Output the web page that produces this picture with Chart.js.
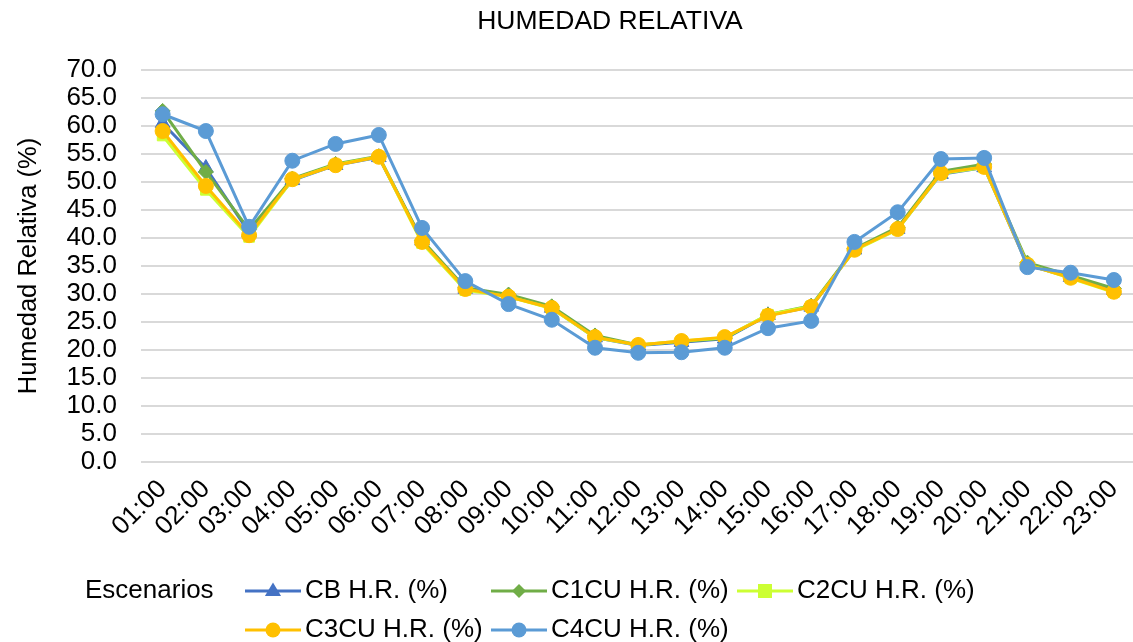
<!DOCTYPE html>
<html>
<head>
<meta charset="utf-8">
<title>Humedad relativa</title>
<script src="https://cdn.jsdelivr.net/npm/chart.js"></script>
<style>
  html, body { margin: 0; padding: 0; background: #fff; overflow: hidden; }
  #wrap { width: 1133px; height: 642px; overflow: hidden; }
</style>
</head>
<body>
<div id="wrap"><canvas id="chart" width="1145" height="642"></canvas></div>
<script>
'use strict';

// Horas del día
const hours = ['01:00', '02:00', '03:00', '04:00', '05:00', '06:00', '07:00', '08:00',
  '09:00', '10:00', '11:00', '12:00', '13:00', '14:00', '15:00', '16:00', '17:00',
  '18:00', '19:00', '20:00', '21:00', '22:00', '23:00'];

// Humedad relativa (%) por escenario
const cb = [60.5, 52.5, 41.0, 50.3, 53.0, 54.4, 39.5, 30.9, 29.6, 27.5, 22.2, 20.8,
  21.4, 22.0, 26.2, 27.7, 37.9, 41.6, 51.4, 52.6, 35.2, 33.0, 30.7];
const c1cu = [62.7, 51.8, 41.5, 50.6, 53.2, 54.6, 39.6, 31.1, 29.9, 27.8, 22.6, 20.9,
  21.5, 22.1, 26.3, 27.9, 38.1, 41.9, 51.9, 53.2, 35.6, 33.3, 31.0];
const c2cu = [58.3, 48.6, 40.2, 50.4, 53.1, 54.5, 39.1, 30.7, 29.5, 27.4, 22.2, 20.9,
  21.6, 22.2, 26.3, 27.8, 37.8, 41.5, 51.5, 52.6, 35.3, 32.8, 30.3];
const c3cu = [59.1, 49.3, 40.5, 50.5, 53.0, 54.5, 39.3, 30.9, 29.5, 27.5, 22.3, 20.9,
  21.6, 22.3, 26.1, 27.7, 37.9, 41.6, 51.6, 52.7, 35.2, 32.9, 30.4];
const c4cu = [62.1, 59.1, 42.0, 53.8, 56.8, 58.4, 41.8, 32.3, 28.2, 25.4, 20.4, 19.5,
  19.6, 20.4, 23.9, 25.2, 39.3, 44.6, 54.1, 54.3, 34.8, 33.8, 32.5];

const FONT = 'Liberation Sans, Arial, sans-serif';

function serie(label, data, color, pointStyle, radius, order) {
  return {
    label, data, order, pointStyle,
    borderColor: color,
    backgroundColor: color,
    pointBackgroundColor: color,
    pointBorderColor: color,
    borderWidth: 3,
    pointRadius: radius,
    pointBorderWidth: 1,
    tension: 0
  };
}

// marcador para la leyenda propia
function drawMarker(ctx, style, x, y, r, color) {
  ctx.save();
  ctx.fillStyle = color;
  ctx.beginPath();
  if (style === 'circle') {
    ctx.arc(x, y, r, 0, Math.PI * 2);
  } else if (style === 'triangle') {
    ctx.moveTo(x, y - r);
    ctx.lineTo(x + r * 0.95, y + r * 0.6);
    ctx.lineTo(x - r * 0.95, y + r * 0.6);
  } else if (style === 'rectRot') {
    ctx.moveTo(x, y - r);
    ctx.lineTo(x + r, y);
    ctx.lineTo(x, y + r);
    ctx.lineTo(x - r, y);
  } else {
    ctx.rect(x - r, y - r, r * 2, r * 2);
  }
  ctx.closePath();
  ctx.fill();
  ctx.restore();
}

// Título y leyenda con "Escenarios" a la izquierda y los elementos en rejilla
const decorPlugin = {
  id: 'escenariosLegend',
  afterDraw(chart) {
    const ctx = chart.ctx;
    ctx.save();
    ctx.fillStyle = '#000';
    ctx.textBaseline = 'middle';
    ctx.textAlign = 'center';
    ctx.font = '26.5px ' + FONT;
    ctx.fillText('HUMEDAD RELATIVA', 610, 22);

    const rows = [591, 630];
    const cols = [245, 491, 737];
    const sizes = { circle: 7.5, triangle: 8.5, rectRot: 7, rect: 7 };
    ctx.textAlign = 'left';
    ctx.font = '26px ' + FONT;
    ctx.fillText('Escenarios', 85, rows[0]);
    chart.data.datasets.forEach((ds, i) => {
      const x = cols[i < 3 ? i : i - 3];
      const y = rows[i < 3 ? 0 : 1];
      ctx.strokeStyle = ds.borderColor;
      ctx.lineWidth = 3;
      ctx.beginPath();
      ctx.moveTo(x, y);
      ctx.lineTo(x + 56, y);
      ctx.stroke();
      drawMarker(ctx, ds.pointStyle, x + 28, y, sizes[ds.pointStyle], ds.borderColor);
      ctx.fillStyle = '#000';
      ctx.fillText(ds.label, x + 60, y);
    });
    ctx.restore();
  }
};

const ctx = document.getElementById('chart').getContext('2d');
new Chart(ctx, {
  type: 'line',
  data: {
    labels: hours,
    datasets: [
      serie('CB H.R. (%)', cb, '#4472C4', 'triangle', 8.5, 5),
      serie('C1CU H.R. (%)', c1cu, '#70AD47', 'rectRot', 7.5, 4),
      serie('C2CU H.R. (%)', c2cu, '#CCFF33', 'rect', 7.5, 3),
      serie('C3CU H.R. (%)', c3cu, '#FFC000', 'circle', 7.5, 2),
      serie('C4CU H.R. (%)', c4cu, '#5B9BD5', 'circle', 7.5, 1)
    ]
  },
  options: {
    responsive: false,
    animation: false,
    layout: { padding: { top: 70, right: 0, bottom: 100, left: 0 } },
    plugins: {
      legend: { display: false },
      tooltip: { enabled: false },
      title: { display: false }
    },
    scales: {
      x: {
        offset: true,
        grid: { display: false, drawTicks: false },
        border: { display: false },
        ticks: {
          color: '#000',
          font: { family: FONT, size: 26 },
          maxRotation: 45,
          minRotation: 45,
          autoSkip: false,
          padding: 12
        },
        afterFit(scale) {
          scale.height = 80;
          scale.paddingLeft = 0;
          scale.paddingRight = 0;
        }
      },
      y: {
        min: 0,
        max: 70,
        grid: { color: '#D9D9D9', lineWidth: 2, drawTicks: false },
        border: { display: false },
        ticks: {
          stepSize: 5,
          autoSkip: false,
          color: '#000',
          font: { family: FONT, size: 26 },
          padding: 24,
          callback: v => v.toFixed(1)
        },
        title: {
          display: true,
          text: 'Humedad Relativa (%)',
          color: '#000',
          font: { family: FONT, size: 25.5 },
          padding: { top: 14, bottom: 0 }
        },
        afterFit(scale) {
          scale.width = 141;
          scale.paddingTop = 0;
          scale.paddingBottom = 0;
        }
      }
    }
  },
  plugins: [decorPlugin]
});
</script>
</body>
</html>
